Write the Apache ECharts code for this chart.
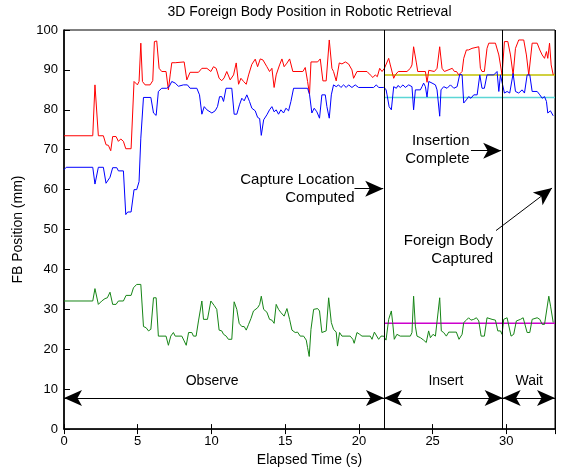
<!DOCTYPE html>
<html><head><meta charset="utf-8">
<script src="https://cdn.jsdelivr.net/npm/echarts@6/dist/echarts.min.js"></script>
<style>html,body{margin:0;padding:0;background:#fff}#c{width:566px;height:472px}</style>
</head><body><div id="c"></div>
<script>
// ---- data (time s, position mm) ----
const red = [[0,73.5],[1.95,73.5],[2.10,86.25],[2.33,73.5],[2.67,73.5],[2.85,71.25],[3.01,71.1],[3.17,69.75],[3.30,73.3],[3.53,73.3],[3.69,72.1],[3.85,72.7],[4.03,72.1],[4.19,70.25],[4.55,70.25],[4.75,87.1],[4.98,86.25],[5.09,87.1],[5.21,96.7],[5.32,87.1],[5.50,86.25],[5.84,86.25],[6.02,87.3],[6.13,97.1],[6.29,97.25],[6.45,90.4],[6.63,89.6],[6.92,89.6],[7.08,85],[7.20,88.75],[7.31,91.8],[7.54,91.8],[7.65,92.0],[8.15,92.0],[8.33,87.5],[8.55,89.4],[9.12,89.4],[9.35,90.4],[9.69,90.4],[9.96,89.6],[10.14,90.8],[10.32,90.4],[10.52,87.9],[10.70,87.3],[10.86,88.0],[11.04,89.6],[11.27,87.5],[11.50,88.75],[11.68,91.75],[11.84,86.4],[12.0,87.9],[12.18,87.1],[12.36,86.4],[12.52,88.75],[12.74,91.4],[12.97,92.7],[13.13,90.8],[13.31,92.75],[13.49,92.5],[13.76,90.8],[13.94,89.6],[14.10,90.4],[14.25,85.6],[14.39,88.75],[14.62,91.25],[14.78,92.75],[14.93,90.8],[15.12,91.7],[15.30,92.75],[15.52,89.6],[16.20,89.6],[16.36,90.6],[16.52,87.1],[16.65,83.9],[16.75,92.0],[17.20,92.0],[17.38,92.75],[17.56,87.25],[17.78,87.25],[17.99,97.5],[18.17,90.4],[18.28,89.6],[18.46,87.25],[18.67,91.75],[18.85,91.5],[19.08,92.0],[19.30,91.5],[19.53,90.0],[19.64,87.9],[19.87,89.6],[20.55,89.6],[20.77,88.75],[20.95,88.1],[21.11,88.75],[21.25,88.3],[21.41,90.4],[21.57,89.6],[21.73,90.4],[22.02,92.9],[22.13,91.25],[22.36,87.9],[22.47,88.75],[22.67,89.6],[23.26,89.6],[23.49,90.4],[23.60,91.25],[23.71,95.8],[23.90,91.75],[23.99,89.6],[24.51,89.6],[24.62,86.9],[24.74,89.9],[24.85,89.6],[25.12,89.6],[25.30,90.4],[25.48,95.8],[25.64,90.4],[25.80,89.6],[26.33,90.4],[26.48,89.6],[26.62,89.6],[26.77,88.75],[27.0,89.6],[27.11,92.9],[27.29,95.0],[27.44,95.0],[27.67,95.4],[28.13,95.8],[28.24,90.4],[28.35,89.6],[28.51,89.6],[28.69,95.4],[28.81,96.7],[29.26,96.7],[29.49,93.75],[29.71,88.75],[29.87,97.1],[30.10,97.1],[30.28,93.75],[30.46,88.75],[30.62,95.4],[30.84,97.5],[31.18,97.5],[31.36,93.75],[31.52,88.75],[31.75,96.7],[32.09,96.7],[32.27,95.0],[32.43,93.75],[32.59,92.9],[32.72,94.6],[32.81,92.9],[32.93,96.7],[33.04,91.25],[33.18,88.75]];
const blue = [[0,65.0],[0.15,65.6],[1.95,65.6],[2.10,61.4],[2.33,65.6],[2.67,65.6],[2.85,61.6],[3.12,63.1],[3.30,65.5],[3.58,65.5],[3.69,64.7],[4.03,64.7],[4.19,53.75],[4.32,54.4],[4.55,54.4],[4.75,60],[4.93,60],[5.09,62],[5.21,72.9],[5.39,83.1],[5.89,83.1],[6.07,79.2],[6.25,78.6],[6.40,84.6],[6.63,85.4],[6.97,85.4],[7.13,85.8],[7.31,87.1],[7.54,86.7],[7.76,85.9],[8.10,86.25],[8.37,86.25],[8.55,85.4],[9.01,85.4],[9.19,83.75],[9.35,78.9],[9.51,80.8],[9.69,80.0],[10.03,79.2],[10.25,79.75],[10.41,80.8],[10.55,83.3],[10.70,83.3],[10.82,82.1],[10.99,85.4],[11.38,85.4],[11.54,78.9],[11.72,78.9],[11.90,81.25],[12.06,82.9],[12.22,82.25],[12.40,83.75],[12.58,82.1],[12.74,80.4],[12.97,79.75],[13.13,78.1],[13.27,77.8],[13.38,73.6],[13.54,77.5],[13.76,78.75],[13.94,80.0],[14.10,80.8],[14.25,79.5],[14.39,80.0],[14.55,78.9],[14.71,80.0],[14.89,79.2],[15.05,80.4],[15.23,79.75],[15.39,82.1],[15.57,85.4],[16.52,85.4],[16.65,83.9],[16.81,79.2],[16.97,80.4],[17.15,79.5],[17.33,77.9],[17.49,83.75],[17.72,83.75],[17.83,80.8],[17.99,77.9],[18.13,83.75],[18.28,86.25],[18.46,85.8],[18.62,86.25],[18.78,85.6],[18.96,86.25],[19.14,85.6],[19.30,86.25],[19.53,85.6],[19.75,86.25],[19.98,85.6],[21.0,85.6],[21.18,86.25],[21.34,85.6],[21.68,85.6],[21.84,85.1],[21.91,83.75],[22.05,80.8],[22.20,80.0],[22.36,85.8],[22.54,85.4],[22.65,86.1],[22.81,85.6],[22.99,86.25],[23.15,85.6],[23.38,86.25],[23.60,85.8],[23.71,80.0],[23.83,85.0],[24.17,85.0],[24.28,85.8],[24.39,86.7],[24.51,85.8],[24.62,83.2],[24.74,87.1],[24.96,86.7],[25.19,86.25],[25.30,85.0],[25.48,78.4],[25.57,85.0],[25.75,85.8],[25.98,85.4],[26.21,86.25],[26.44,85.4],[26.66,85.8],[26.84,88.9],[27.0,88.75],[27.11,81.7],[27.29,82.5],[27.44,83.3],[27.60,82.9],[27.79,83.75],[28.02,83.75],[28.20,88.75],[28.35,85.4],[28.51,85.4],[28.69,88.75],[29.15,88.75],[29.37,89.6],[29.49,84.6],[29.60,88.75],[29.71,89.1],[29.87,84.2],[30.05,84.6],[30.23,84.2],[30.46,89.1],[30.62,84.6],[30.84,84.2],[31.07,85.0],[31.23,84.2],[31.41,88.75],[31.59,88.75],[31.75,84.6],[32.09,84.6],[32.27,83.75],[32.43,82.9],[32.59,83.3],[32.72,82.1],[32.81,79.2],[32.99,79.75],[33.18,78.5]];
const green = [[0,32.1],[1.95,32.1],[2.10,35.2],[2.33,31.25],[2.56,32.1],[2.78,32.7],[2.94,32.9],[3.12,34.3],[3.30,31.25],[3.53,31.25],[3.69,32.1],[4.03,32.1],[4.21,33.5],[4.55,33.5],[4.71,35.4],[4.93,36.25],[5.21,36.25],[5.39,25.7],[5.57,25.4],[5.73,24.6],[5.89,25.0],[6.07,32.9],[6.25,32.9],[6.40,23.3],[6.92,23.3],[7.08,21.0],[7.24,23.3],[7.42,24.2],[7.54,23.3],[7.99,23.3],[8.15,22.1],[8.29,21.0],[8.45,24.2],[8.67,24.2],[8.78,23.3],[8.96,23.3],[9.12,27.1],[9.35,32.1],[9.46,27.5],[9.73,27.5],[9.96,32.1],[10.18,31.0],[10.36,30.0],[10.52,24.8],[10.70,24.6],[10.82,23.75],[11.0,23.3],[11.15,22.5],[11.38,22.5],[11.54,31.9],[11.72,30.0],[11.88,26.5],[12.06,25.7],[12.22,25.7],[12.36,24.8],[12.52,26.25],[12.68,27.7],[12.85,29.6],[12.97,29.2],[13.13,30.4],[13.27,31.25],[13.38,33.3],[13.54,30.0],[13.76,29.3],[13.94,27.5],[14.10,27.3],[14.25,26.5],[14.39,31.25],[14.55,30.0],[14.71,29.2],[14.93,28.3],[15.12,30.2],[15.30,27.5],[15.46,24.8],[15.68,24.2],[15.84,24.3],[16.02,23.3],[16.25,23.3],[16.43,22.3],[16.52,20.4],[16.63,18.2],[16.75,25.0],[16.93,30.0],[17.20,30.2],[17.33,29.6],[17.49,24.2],[17.78,24.6],[17.83,25.0],[17.95,32.9],[18.13,26.7],[18.28,25.0],[18.46,24.3],[18.55,20.8],[18.69,24.2],[18.85,23.3],[19.41,23.3],[19.59,22.5],[19.68,21.5],[19.87,24.2],[20.05,23.75],[20.21,23.3],[20.77,23.3],[20.89,22.5],[21.05,24.3],[21.18,24.6],[21.34,22.5],[21.50,23.3],[21.68,23.3],[21.84,22.3],[22.02,27.5],[22.20,29.6],[22.29,26.7],[22.40,22.5],[22.58,23.75],[22.80,23.3],[23.49,23.3],[23.60,24.2],[23.71,33.3],[23.83,25.8],[23.94,23.3],[24.17,22.9],[24.39,22.3],[24.57,21.7],[24.73,24.6],[24.85,22.9],[25.03,23.75],[25.19,23.3],[25.30,23.3],[25.48,32.9],[25.59,24.6],[25.75,24.2],[25.93,23.3],[26.09,24.3],[26.61,24.3],[26.79,22.5],[27.0,23.75],[27.11,26.7],[27.29,27.3],[27.44,27.9],[27.60,27.3],[27.79,27.5],[27.97,27.9],[28.13,27.1],[28.29,23.3],[28.51,23.3],[28.69,27.9],[29.03,27.5],[29.26,27.3],[29.42,24.6],[29.60,24.6],[29.71,23.75],[29.82,27.5],[30.05,27.9],[30.16,27.5],[30.32,23.3],[30.50,23.75],[30.68,27.1],[30.96,27.5],[31.14,27.9],[31.23,27.5],[31.41,24.2],[31.59,24.2],[31.75,27.5],[32.09,27.9],[32.27,27.5],[32.43,26.25],[32.59,26.25],[32.72,25.8],[32.88,33.3],[33.0,30.8],[33.18,26.7]];

// reference (estimated) levels, drawn from capture time to end
const refLevels = [88.75, 83.1, 26.5];
const refColors = ['#c0c000', '#5cd6d6', '#cc00cc'];

// phase boundaries (s) and names
const phaseBounds = [0, 21.7, 29.75, 33.3];
const phaseNames = ['Observe', 'Insert', 'Wait'];
const phaseLabelT = [10.05, 25.9, 31.55];
const phaseArrowY = 7.8;
const phaseLabelY = 11.9;

// annotations: text, anchor [t, y], arrow from -> to
const notes = [
  {text: 'Capture Location\nComputed', at: [19.7, 60.1], from: [19.7, 60.25], to: [21.65, 60.25]},
  {text: 'Insertion\nComplete', at: [27.5, 70.0], from: [27.6, 69.75], to: [29.65, 69.75]},
  {text: 'Foreign Body\nCaptured', at: [29.1, 44.8], from: [29.3, 49.75], to: [33.1, 60.4]}
];

const X_MAX = 33.3;
const FONT = '"Liberation Sans", Arial, Helvetica, sans-serif';

const chart = echarts.init(document.getElementById('c'));

const lineSeries = (data, color) => ({
  type: 'line', data, symbol: 'none', showSymbol: false, animation: false,
  lineStyle: {color, width: 1}, z: 3, silent: true
});

const series = [
  lineSeries(red, '#ff0000'),
  lineSeries(blue, '#0000ff'),
  lineSeries(green, '#168516')
];
refLevels.forEach((lv, i) => {
  series.push({type: 'line', data: [[phaseBounds[1], lv], [phaseBounds[3], lv]], symbol: 'none',
    lineStyle: {color: refColors[i], width: 1.5}, z: 2, silent: true});
});

// vertical phase lines + arrows via markLine on helper series
const markData = [];
phaseBounds.slice(1).forEach(b => markData.push({xAxis: b}));
const arrowLines = [];
for (let i = 0; i < phaseNames.length; i++) {
  arrowLines.push([{coord: [phaseBounds[i], phaseArrowY]}, {coord: [phaseBounds[i + 1], phaseArrowY]}]);
}
const noteArrows = notes.map(n => [{coord: n.from}, {coord: n.to}]);

series.push({
  type: 'line', data: [], silent: true,
  markLine: {silent: true, symbol: 'none', animation: false, label: {show: false},
    lineStyle: {color: '#000', width: 1, type: 'solid'}, data: markData}
});
series.push({
  type: 'line', data: [], silent: true,
  markLine: {silent: true, symbol: ['arrow', 'arrow'], symbolSize: [12, 18], animation: false, label: {show: false},
    lineStyle: {color: '#000', width: 1, type: 'solid'}, data: arrowLines}
});
series.push({
  type: 'line', data: [], silent: true,
  markLine: {silent: true, symbol: ['none', 'arrow'], symbolSize: [12, 18], animation: false, label: {show: false},
    lineStyle: {color: '#000', width: 1, type: 'solid'}, data: noteArrows}
});

const tickStyle = {color: '#000', width: 1};
chart.setOption({
  animation: false,
  grid: {left: 64, right: 11, top: 30, bottom: 42, show: true, borderColor: '#000', borderWidth: 1, backgroundColor: '#fff'},
  xAxis: [
    {type: 'value', min: 0, max: X_MAX, interval: 5, position: 'bottom',
      axisLine: {show: true, onZero: false, lineStyle: {color: '#000', width: 1.6}},
      axisTick: {show: true, inside: true, length: 5, lineStyle: tickStyle},
      axisLabel: {color: '#000', fontSize: 13, fontFamily: FONT, margin: 6, showMaxLabel: false,
        formatter: v => (Math.abs(v % 5) < 1e-6 ? String(v) : '')},
      splitLine: {show: false},
      name: 'Elapsed Time (s)', nameLocation: 'middle', nameGap: 22,
      nameTextStyle: {color: '#000', fontSize: 14, fontFamily: FONT}},
    {type: 'value', min: 0, max: X_MAX, interval: 5, position: 'top',
      axisLine: {show: false}, axisTick: {show: true, inside: true, length: 5, lineStyle: tickStyle},
      axisLabel: {show: false}, splitLine: {show: false}}
  ],
  yAxis: [
    {type: 'value', min: 0, max: 100, interval: 10, position: 'left',
      axisLine: {show: true, onZero: false, lineStyle: {color: '#000', width: 1.6}},
      axisTick: {show: true, inside: true, length: 5, lineStyle: tickStyle},
      axisLabel: {color: '#000', fontSize: 13, fontFamily: FONT, margin: 6},
      splitLine: {show: false},
      name: 'FB Position (mm)', nameLocation: 'middle', nameGap: 38,
      nameTextStyle: {color: '#000', fontSize: 14, fontFamily: FONT}},
    {type: 'value', min: 0, max: 100, interval: 10, position: 'right', offset: 5,
      axisLine: {show: false}, axisTick: {show: true, inside: false, length: 6, lineStyle: tickStyle},
      axisLabel: {show: false}, splitLine: {show: false}}
  ],
  series
});

// text placed through the chart's own scales
const px = p => chart.convertToPixel({gridIndex: 0}, p);
const graphics = [];
const topLeft = px([0, 100]), topRight = px([X_MAX, 100]);
graphics.push({type: 'text', x: (topLeft[0] + topRight[0]) / 2, y: topLeft[1] - 18,
  style: {text: '3D Foreign Body Position in Robotic Retrieval', fill: '#000', font: '14px ' + FONT,
    textAlign: 'center', textVerticalAlign: 'middle'}});
for (let i = 0; i < phaseNames.length; i++) {
  const c = px([phaseLabelT[i], phaseLabelY]);
  graphics.push({type: 'text', x: c[0], y: c[1], style: {text: phaseNames[i], fill: '#000', font: '14px ' + FONT,
    textAlign: 'center', textVerticalAlign: 'middle'}});
}
notes.forEach(n => {
  const c = px(n.at);
  graphics.push({type: 'text', x: c[0], y: c[1], style: {text: n.text, fill: '#000', font: '15px ' + FONT,
    textAlign: 'right', textVerticalAlign: 'middle', lineHeight: 18}});
});
chart.setOption({graphic: graphics});
</script>
</body></html>
